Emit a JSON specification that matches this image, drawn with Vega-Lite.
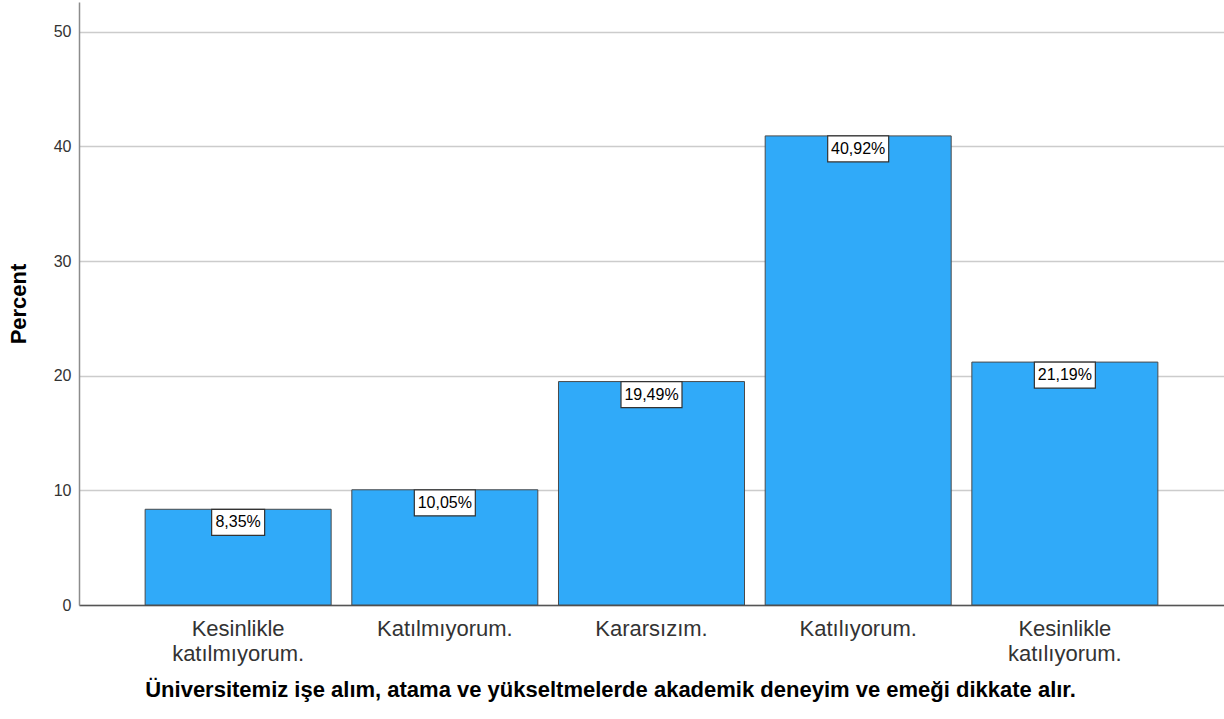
{
  "$schema": "https://vega.github.io/schema/vega-lite/v6.json",
  "width": 1145,
  "height": 603,
  "autosize": {"type": "none"},
  "padding": {"left": 79, "top": 2, "right": 0, "bottom": 114},
  "background": "white",
  "config": {
    "font": "Liberation Sans",
    "view": {"stroke": null}
  },
  "data": {
    "values": [
      {"answer": "Kesinlikle katılmıyorum.", "percent": 8.35},
      {"answer": "Katılmıyorum.", "percent": 10.05},
      {"answer": "Kararsızım.", "percent": 19.49},
      {"answer": "Katılıyorum.", "percent": 40.92},
      {"answer": "Kesinlikle katılıyorum.", "percent": 21.19}
    ]
  },
  "transform": [
    {"calculate": "replace(format(datum.percent, '.2f'), '.', ',') + '%'", "as": "label"}
  ],
  "encoding": {
    "x": {
      "field": "answer",
      "type": "nominal",
      "sort": null,
      "scale": {"paddingInner": 0.1, "paddingOuter": 0.32},
      "axis": {
        "title": "Üniversitemiz işe alım, atama ve yükseltmelerde akademik deneyim ve emeği dikkate alır.",
        "titleFont": "Liberation Sans",
        "titleFontSize": 22,
        "titleFontWeight": "bold",
        "titleColor": "#000000",
        "titleX": 531,
        "titleY": 91,
        "titleAlign": "center",
        "titleAnchor": null,
        "titleBaseline": "alphabetic",
        "labelExpr": "datum.value == 'Kesinlikle katılmıyorum.' ? ['Kesinlikle', 'katılmıyorum.'] : datum.value == 'Kesinlikle katılıyorum.' ? ['Kesinlikle', 'katılıyorum.'] : datum.value",
        "labelAngle": 0,
        "labelFontSize": 22,
        "labelColor": "#333333",
        "labelLineHeight": 25,
        "labelBaseline": "top",
        "labelPadding": 13,
        "ticks": false,
        "tickSize": 0,
        "domainColor": "#555555",
        "domainWidth": 1.5,
        "grid": false
      }
    }
  },
  "layer": [
    {
      "mark": {"type": "bar", "fill": "#30aaf9", "stroke": "#4a4a4a", "strokeWidth": 1},
      "encoding": {
        "y": {
          "field": "percent",
          "type": "quantitative",
          "scale": {"domain": [0, 52.6], "nice": false},
          "axis": {
            "title": "Percent",
            "titleFontSize": 22,
            "titleFontWeight": "bold",
            "titleColor": "#000000",
            "titleX": -54,
            "titleBaseline": "alphabetic",
            "values": [0, 10, 20, 30, 40, 50],
            "labelFontSize": 16,
            "labelColor": "#333333",
            "labelPadding": 8,
            "ticks": false,
            "tickSize": 0,
            "domainColor": "#8c8c8c",
            "domainWidth": 1.5,
            "grid": true,
            "gridColor": "#cccccc",
            "gridWidth": 1.5
          }
        }
      }
    },
    {
      "mark": {"type": "bar", "fill": "white", "stroke": "#333333", "strokeWidth": 1.2, "y2Offset": 26},
      "encoding": {
        "y": {"field": "percent", "type": "quantitative"},
        "y2": {"field": "percent"},
        "size": {"condition": {"test": "datum.percent < 10", "value": 53}, "value": 61}
      }
    },
    {
      "mark": {"type": "text", "fontSize": 16, "color": "#000000", "baseline": "middle", "dy": 13},
      "encoding": {
        "y": {"field": "percent", "type": "quantitative"},
        "text": {"field": "label"}
      }
    }
  ]
}
